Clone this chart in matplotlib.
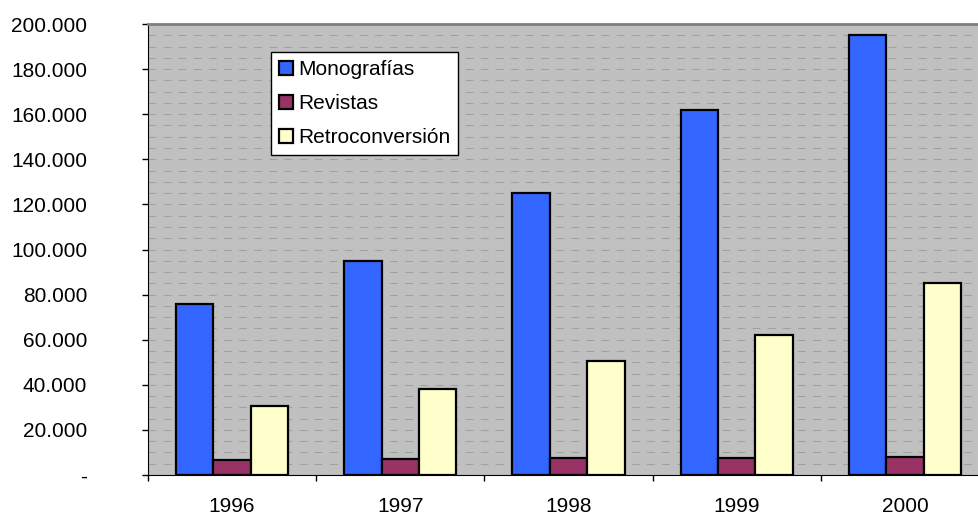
import numpy as np
import matplotlib
matplotlib.use('Agg')
from matplotlib import pyplot as plt
from matplotlib.ticker import FuncFormatter, MultipleLocator

years = ['1996', '1997', '1998', '1999', '2000']
monografias = [76000, 95000, 125000, 162000, 195000]
revistas = [6500, 7000, 7500, 7500, 8000]
retroconversion = [30500, 38000, 50500, 62000, 85000]

series = [
    ('Monografías', monografias, '#3366FF'),
    ('Revistas', revistas, '#993366'),
    ('Retroconversión', retroconversion, '#FFFFCC'),
]

plt.rcParams['font.family'] = ['Liberation Sans', 'DejaVu Sans']

fig = plt.figure(figsize=(9.79, 5.16), dpi=100)
W, H = 979, 516
# plot area runs a bit past the right edge of the picture
ax_left, ax_right, ax_top, ax_bot = 148, 989, 24, 475
ax = fig.add_axes([ax_left / W, (H - ax_bot) / H, (ax_right - ax_left) / W, (ax_bot - ax_top) / H])
ax.set_facecolor('#C0C0C0')

x = np.arange(len(years))
width = 1 / 4.5
for i, (name, vals, col) in enumerate(series):
    ax.bar(x + (i - 1) * width, vals, width, color=col, edgecolor='black',
           linewidth=1.6, label=name, zorder=3)

ax.set_xlim(-0.5, len(years) - 0.5)
ax.set_ylim(0, 200000)

# gridlines every 5000, dashed
for yv in np.arange(5000, 200000, 5000):
    ax.axhline(yv, color='#A0A0A0', linestyle=(0, (7.5, 7)), linewidth=0.75, zorder=1)

ax.yaxis.set_major_locator(MultipleLocator(20000))

def fmt(v, pos):
    if v == 0:
        return '-'
    return f'{int(v):,}'.replace(',', '.')

# sizes in points (dpi 100 -> 1px = 0.72pt)
ax.yaxis.set_major_formatter(FuncFormatter(fmt))
ax.tick_params(axis='y', direction='out', length=4.3, width=1, pad=39.5,
               labelsize=15, colors='black')

# category boundaries as major ticks, labels at centers
ax.set_xticks(np.arange(-0.5, len(years), 1))
ax.set_xticklabels([])
ax.set_xticks(x, minor=True)
ax.set_xticklabels(years, minor=True)
ax.tick_params(axis='x', which='major', direction='out', length=4.3, width=1)
ax.tick_params(axis='x', which='minor', length=0, pad=16, labelsize=15)

ax.spines['left'].set_color('black')
ax.spines['bottom'].set_color('black')
ax.spines['top'].set_color('#808080')
ax.spines['top'].set_linewidth(2)
ax.spines['right'].set_visible(False)

leg = ax.legend(loc='upper left',
                bbox_to_anchor=((271 - ax_left) / (ax_right - ax_left), (ax_bot - 52) / (ax_bot - ax_top)),
                fontsize=15, frameon=True, fancybox=False, framealpha=1,
                edgecolor='black', handlelength=0.67, handleheight=0.67,
                handletextpad=0.25, borderpad=0.38, labelspacing=0.72,
                borderaxespad=0)
leg.get_frame().set_linewidth(1)

fig.savefig('out.png', dpi=100)
